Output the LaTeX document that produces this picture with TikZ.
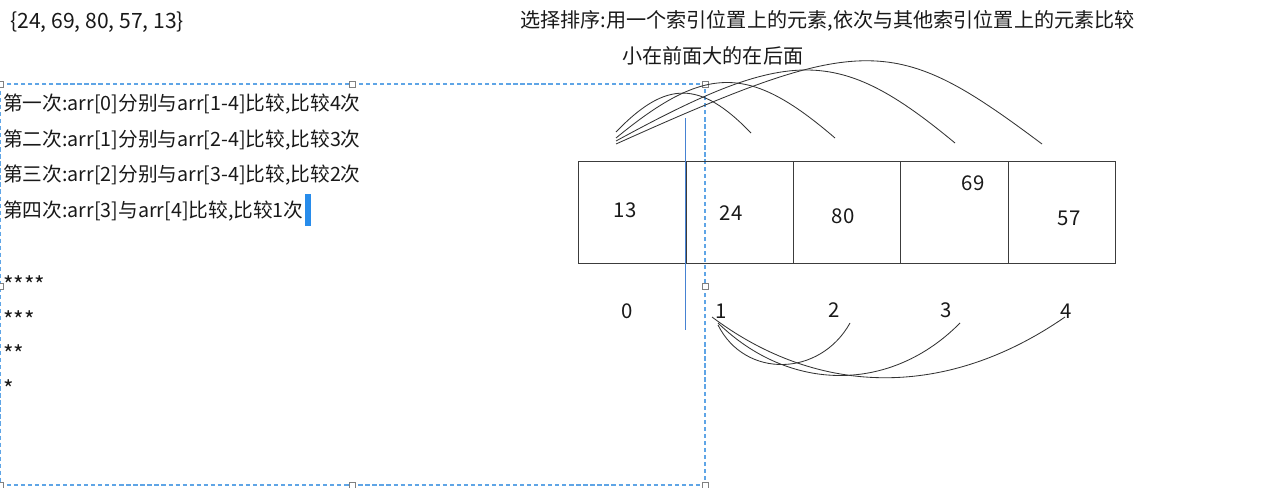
\documentclass[tikz,border=0pt]{standalone}
\usepackage{fontspec}
\setmainfont{Noto Sans CJK SC}
\usetikzlibrary{positioning}

\definecolor{selblue}{RGB}{95,165,230}
\definecolor{lineblue}{RGB}{70,130,210}
\definecolor{caret}{RGB}{40,140,235}
\definecolor{ink}{RGB}{25,25,25}
\definecolor{boxline}{RGB}{60,60,60}

\tikzset{
  txt/.style={anchor=west, inner sep=0pt, text=ink, font=\fontsize{14pt}{16pt}\selectfont},
  star/.style={anchor=west, inner sep=0pt, text=ink, font=\fontsize{16pt}{18pt}\selectfont},
  num/.style={inner sep=0pt, text=ink, font=\fontsize{14.5pt}{16pt}\selectfont},
  cell/.style={draw=boxline, line width=0.8pt, minimum width=2.685cm, minimum height=2.55cm, inner sep=0pt, anchor=north west},
  arc/.style={draw=black!80, line width=0.6pt},
  handle/.style={draw=gray, fill=white, line width=0.4pt, minimum size=4pt, inner sep=0pt},
}

\begin{document}
\begin{tikzpicture}[x=0.025cm, y=-0.025cm]
\useasboundingbox (0,0) rectangle (1280,487);

% the array and the task
\node[txt, font=\fontsize{15pt}{17pt}\selectfont] (arr) at (10,22) {\{24, 69, 80, 57, 13\}};
\node[txt, font=\fontsize{14.3pt}{16pt}\selectfont] (title) at (520,21) {选择排序:用一个索引位置上的元素,依次与其他索引位置上的元素比较};
\node[txt, font=\fontsize{14.3pt}{16pt}\selectfont] (rule) at (622,56) {小在前面大的在后面};

% passes
\node[txt] (p1) at (3,104) {第一次:arr[0]分别与arr[1-4]比较,比较4次};
\node[txt] (p2) at (3,140) {第二次:arr[1]分别与arr[2-4]比较,比较3次};
\node[txt] (p3) at (3,175) {第三次:arr[2]分别与arr[3-4]比较,比较2次};
\node[txt] (p4) at (3,211) {第四次:arr[3]与arr[4]比较,比较1次};
\fill[caret] (305,194) rectangle (311,226);

% stars
\node[star] (st4) at (3,285) {****};
\node[star] (st3) at (3,320) {***};
\node[star] (st2) at (3,354) {**};
\node[star] (st1) at (3,389) {*};

% selection frame
\draw[selblue, line width=0.9pt, dash pattern=on 3pt off 2pt] (0,84) rectangle (705,485);
\foreach \hx/\hy in {0/84, 352/84, 705/84, 0/286, 705/286, 0/485, 352/485, 705/485}
  \node[handle] at (\hx,\hy) {};

% cells
\foreach \i in {0,...,4}
  \node[cell] (c\i) at ({578+107.4*\i},161) {};
\node[num] (v0) at (625,210) {13};
\node[num] (v1) at (731,213) {24};
\node[num] (v2) at (843,216) {80};
\node[num] (v3) at (973,183) {69};
\node[num] (v4) at (1069,218) {57};

% indexes
\node[num] (i0) at (627,311) {0};
\node[num] (i1) at (721,311) {1};
\node[num] (i2) at (834,310) {2};
\node[num] (i3) at (946,310) {3};
\node[num] (i4) at (1066,311) {4};

\draw[lineblue, line width=0.9pt] (685.4,118) -- (685.4,330);

% comparisons of index 0
\coordinate (a1) at (616,132);
\coordinate (a2) at (616,138);
\coordinate (a3) at (616,141);
\coordinate (a4) at (616,144);
\coordinate (b1) at (751,133);
\coordinate (b2) at (835,138);
\coordinate (b3) at (955,143);
\coordinate (b4) at (1042,144);
\draw[arc] (a1) .. controls (666,80) and (700,80) .. (b1);
\draw[arc] (a2) .. controls (706,64) and (749,64) .. (b2);
\draw[arc] (a3) .. controls (790,46) and (838,46) .. (b3);
\draw[arc] (a4) .. controls (865,32) and (895,34) .. (b4);

% comparisons of index 1
\coordinate (d2) at (718,325);
\coordinate (d3) at (718,323);
\coordinate (d4) at (712,317);
\coordinate (f2) at (850,323);
\coordinate (f3) at (960,323);
\coordinate (f4) at (1065,317);
\draw[arc] (d2) .. controls (745,379) and (820,377) .. (f2);
\draw[arc] (d3) .. controls (790,393) and (891,393) .. (f3);
\draw[arc] (d4) .. controls (820,398) and (948,398) .. (f4);
\end{tikzpicture}
\end{document}
